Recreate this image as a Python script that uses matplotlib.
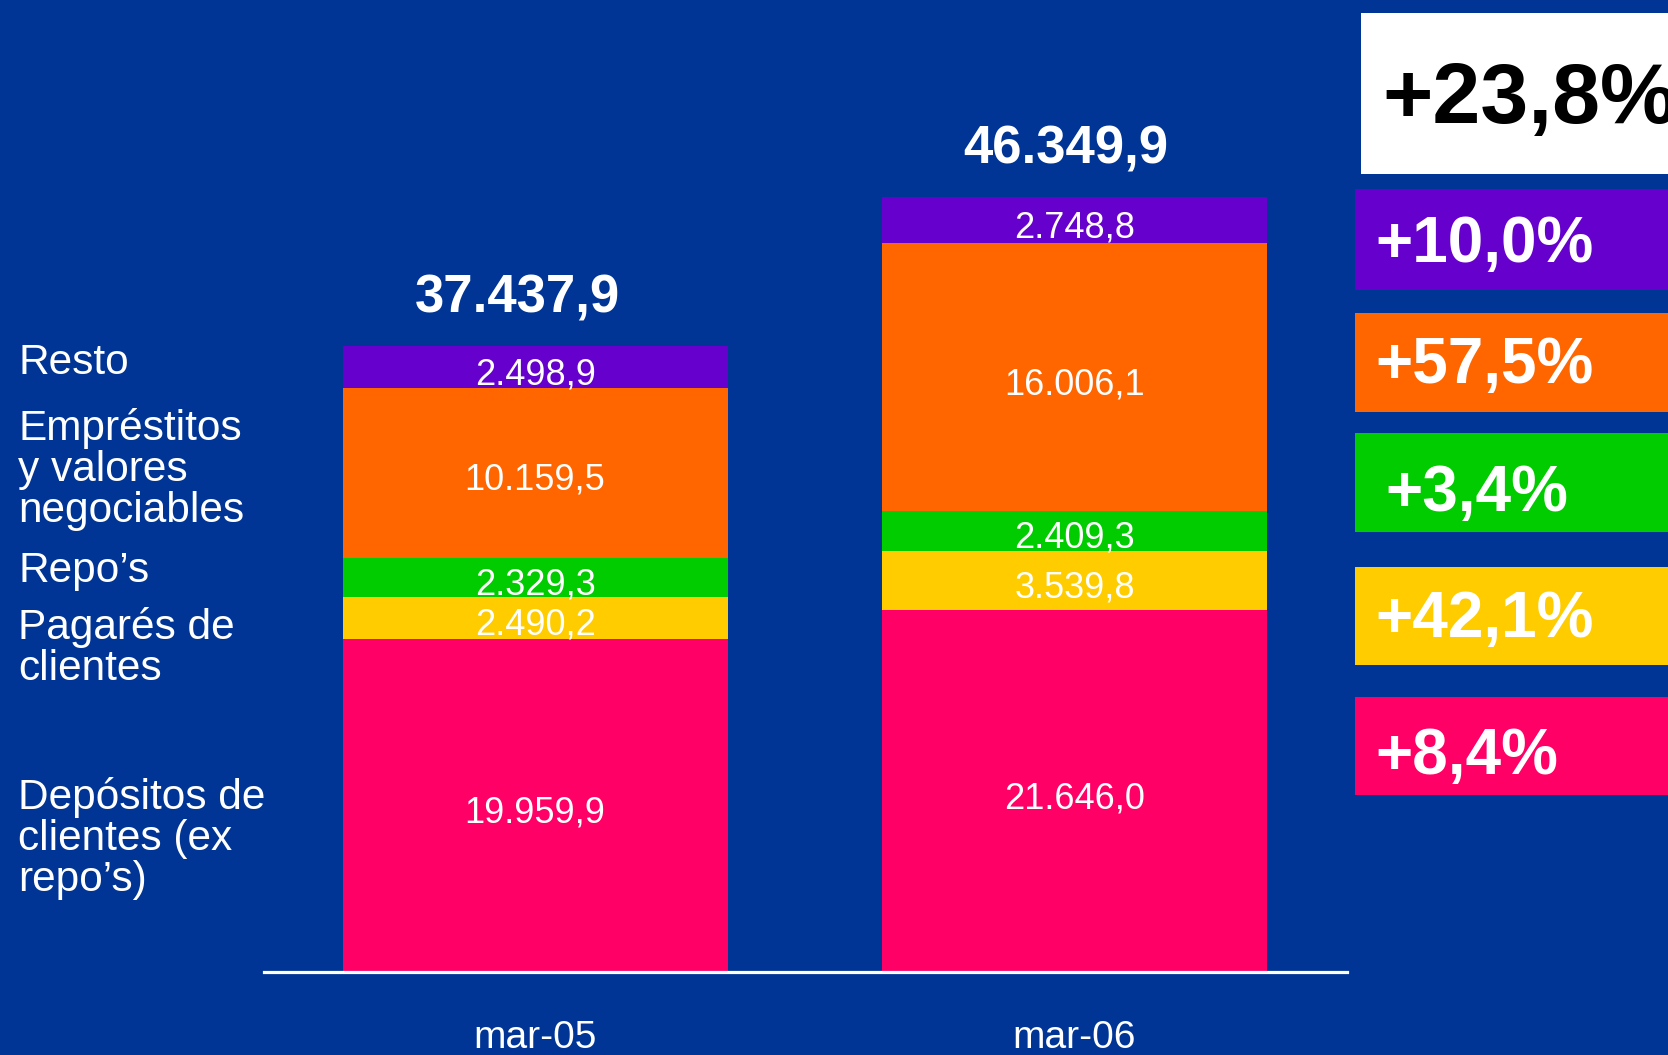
import matplotlib
matplotlib.use('Agg')
import matplotlib.pyplot as plt
from matplotlib import font_manager
from matplotlib.patches import Rectangle

# datos (millones de euros)
fechas = ['mar-05', 'mar-06']
categorias = ['Depósitos de\nclientes (ex\nrepo’s)', 'Pagarés de\nclientes', 'Repo’s',
              'Empréstitos\ny valores\nnegociables', 'Resto']
depositos = [19959.9, 21646.0]
pagares = [2490.2, 3539.8]
repos = [2329.3, 2409.3]
emprestitos = [10159.5, 16006.1]
resto = [2498.9, 2748.8]
totales = [37437.9, 46349.9]

series = [depositos, pagares, repos, emprestitos, resto]
colores = ['#FF0066', '#FFCC00', '#00CC00', '#FF6600', '#6600CC']
fondo = '#003595'

W, H = 1668, 1055


def fuente_estrecha():
    for fam in ['Liberation Sans Narrow', 'Arial Narrow', 'DejaVu Sans Condensed']:
        try:
            font_manager.findfont(font_manager.FontProperties(family=fam), fallback_to_default=False)
            return fam, 28
        except Exception:
            pass
    # sin fuente estrecha: un poco más pequeña para no ensanchar
    return 'Liberation Sans', 26


NARROW, TAM_SEG = fuente_estrecha()
plt.rcParams['font.family'] = ['Liberation Sans', 'DejaVu Sans']


def es(v):
    s = f"{v:,.1f}"
    return s.replace(',', 'X').replace('.', ',').replace('X', '.')


def pct(a, b):
    return ("+%.1f%%" % ((b / a - 1) * 100)).replace('.', ',')


fig = plt.figure(figsize=(W / 100, H / 100), dpi=100, facecolor=fondo)

base_px = 972.3
escala = 0.016722  # px por unidad
ax = fig.add_axes([263.8 / W, 1 - base_px / H, (1346.8 - 263.8) / W, base_px / H])
ax.set_facecolor('none')
ax.set_xlim(-0.503, 1.505)
ax.set_ylim(0, base_px / escala)

x = [0, 1]
abajo = [0, 0]
for vals, col in zip(series, colores):
    ax.bar(x, vals, width=0.714, bottom=abajo, color=col, linewidth=0, zorder=2)
    for i in range(2):
        ax.annotate(es(vals[i]), (x[i], abajo[i] + vals[i] / 2), xytext=(0, -17),
                    textcoords='offset pixels', ha='center', va='baseline',
                    color='white', fontsize=TAM_SEG, family=NARROW, zorder=4)
    abajo = [abajo[i] + vals[i] for i in range(2)]

# totales encima de las barras
dx_tot = [-18, -9]
for i in range(2):
    ax.annotate(es(totales[i]), (x[i], totales[i]), xytext=(dx_tot[i], 34),
                textcoords='offset pixels', ha='center', va='baseline',
                color='white', fontsize=38, fontweight='bold')

ax.axhline(0, color='white', lw=2.3, zorder=5, clip_on=False)

ax.set_xticks(x, fechas)
ax.tick_params(axis='x', length=0, pad=34, labelsize=28, labelcolor='white')
for lbl in ax.get_xticklabels():
    lbl.set_fontfamily(NARROW)
ax.set_yticks([])
for s in ax.spines.values():
    s.set_visible(False)

# etiquetas de la izquierda
base_etiquetas = [809, 639.5, 582, 440, 374]
for nombre, yb in zip(categorias, base_etiquetas):
    for k, linea in enumerate(nombre.split('\n')):
        fig.text(18 / W, 1 - (yb + 41 * k) / H, linea, ha='left', va='baseline',
                 color='white', fontsize=30.5)

# cajas de variación
variaciones = [pct(totales[0], totales[1])] + [pct(s[0], s[1]) for s in series[::-1]]
col_cajas = ['white'] + colores[::-1]
col_texto = ['black'] + ['white'] * 5
cajas_y = [(12.7, 174), (189, 289.5), (313, 411.5), (433, 531.5), (567, 665.3), (697, 795.3)]
cajas_x = [1361, 1355, 1355, 1355, 1355, 1355]
texto_x = [1382, 1375, 1375, 1385, 1375, 1375]
texto_y = [122.7, 262, 383, 511, 637, 774]
tamanos = [62, 46, 46, 46, 46, 46]
for i in range(6):
    y0, y1 = cajas_y[i]
    fig.patches.append(Rectangle((cajas_x[i] / W, 1 - y1 / H), (W - cajas_x[i] + 5) / W,
                                 (y1 - y0) / H, transform=fig.transFigure,
                                 facecolor=col_cajas[i], edgecolor='none'))
    fig.text(texto_x[i] / W, 1 - texto_y[i] / H, variaciones[i], ha='left', va='baseline',
             color=col_texto[i], fontsize=tamanos[i], fontweight='bold')

fig.savefig('out.png', dpi=100, facecolor=fondo)
